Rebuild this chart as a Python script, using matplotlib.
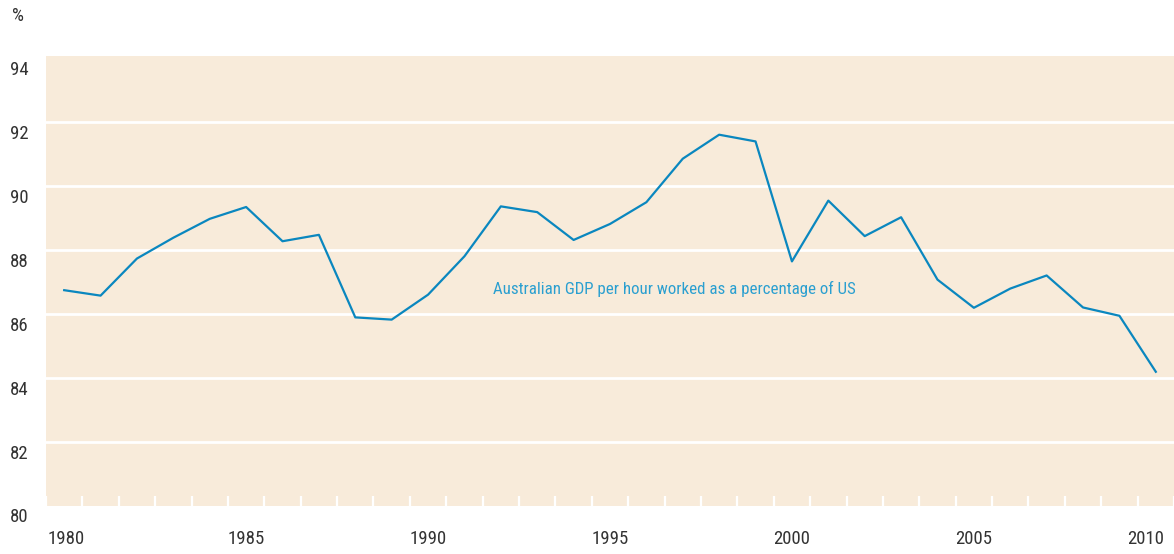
import matplotlib
matplotlib.use("Agg")
import matplotlib.pyplot as plt
import matplotlib.transforms as mtransforms
from matplotlib import font_manager
from matplotlib.textpath import TextPath
import numpy as np

# ----- Data ---------------------------------------------------------------
years = list(range(1980, 2011))
gdp_pct_us = [86.73, 86.56, 87.72, 88.37, 88.96, 89.33, 88.26, 88.46, 85.88, 85.81,
              86.59, 87.79, 89.35, 89.17, 88.30, 88.80, 89.48, 90.84, 91.59, 91.38,
              87.63, 89.53, 88.42, 89.01, 87.06, 86.18, 86.78, 87.19, 86.19, 85.93,
              84.18]
year_labels = [1980, 1985, 1990, 1995, 2000, 2005, 2010]
y_ticks = [80, 82, 84, 86, 88, 90, 92, 94]
grid_levels = [82, 84, 86, 88, 90, 92]
series_label = "Australian GDP per hour worked as a percentage of US"

BG = "#f8ebda"
LINE = "#0a87bf"
TEXT = "#333333"
DPI = 100
FS = 13.5
SANS = ("roboto", "open sans", "noto sans", "liberation sans", "dejavu sans",
        "lato", "inter")
TARGET_RATIO = 362 / 13.3  # note width / digit height in the source


def _condensed_sans():
    """Pick the installed sans face whose proportions are closest to the source."""
    best = None
    for f in font_manager.fontManager.ttflist:
        name = f.name.lower()
        if not name.startswith(SANS) or f.style != "normal":
            continue
        if any(k in name for k in ("serif", "mono", "slab", "cjk", "symbol")):
            continue
        w = f.weight if isinstance(f.weight, int) else 400
        if abs(w - 400) > 50:
            continue
        fp = font_manager.FontProperties(fname=f.fname)
        try:
            ext = TextPath((0, 0), series_label, size=100, prop=fp).get_extents()
            dig = TextPath((0, 0), "0", size=100, prop=fp).get_extents()
        except Exception:
            continue
        score = abs(ext.width / dig.height - TARGET_RATIO)
        if best is None or score < best[0]:
            best = (score, fp)
    if best is None:
        return font_manager.FontProperties(family="Liberation Sans")
    return best[1]


fp = _condensed_sans()

W, H = 1174, 554
fig = plt.figure(figsize=(W / DPI, H / DPI), dpi=DPI)
ax = fig.add_axes([46 / W, (H - 505.5) / H, (W - 46) / W, (505.5 - 56) / H])
ax.set_facecolor(BG)
for s in ax.spines.values():
    s.set_visible(False)

ax.set_xlim(1979.5, 2010.5)
ax.set_ylim(80, 94.05)

for lev in grid_levels:
    ax.axhline(lev, color="white", lw=2, zorder=1)

ax.plot(years, gdp_pct_us, color=LINE, lw=1.6, zorder=3)

# year boundary ticks (white, inside)
ax.set_xticks([])
ax.set_xticks(np.arange(1979.5, 2011, 1.0), minor=True)
ax.tick_params(axis="x", which="minor", direction="in", length=7.5, width=1.6,
               color="white")
ax.set_yticks([])

xlab_tr = mtransforms.blended_transform_factory(ax.transData, fig.transFigure)
for yr in year_labels:
    shift = -10 if yr == year_labels[-1] else (2 if yr == year_labels[0] else 0)
    tr = mtransforms.offset_copy(xlab_tr, fig=fig, x=shift, units="dots")
    fig.text(yr, 1 - 539 / H, str(yr), transform=tr, ha="center", va="center",
             fontsize=FS, color=TEXT, fontproperties=fp)

# y labels sit just below each level, left aligned at the figure edge
ylab_tr = mtransforms.offset_copy(
    mtransforms.blended_transform_factory(fig.transFigure, ax.transData),
    fig=fig, y=-12, units="dots")
for v in y_ticks:
    ax.text(10 / W, v, str(v), transform=ylab_tr, ha="left", va="center",
            fontsize=FS, color=TEXT, clip_on=False, fontproperties=fp)

fig.text(12 / W, 1 - 16 / H, "%", ha="left", va="center", fontsize=FS,
         color=TEXT, fontproperties=fp)

note = ax.text(1991.78, 86.78, series_label, ha="left", va="center",
               fontsize=FS, color="#2a9fd0", zorder=4, fontproperties=fp)
# keep the note about as wide as in the source (~362 px)
fig.canvas.draw()
width_px = note.get_window_extent().width
if width_px > 0:
    note.set_fontsize(min(FS, FS * 362 / width_px))

fig.savefig("out.png", dpi=DPI)
plt.close(fig)
